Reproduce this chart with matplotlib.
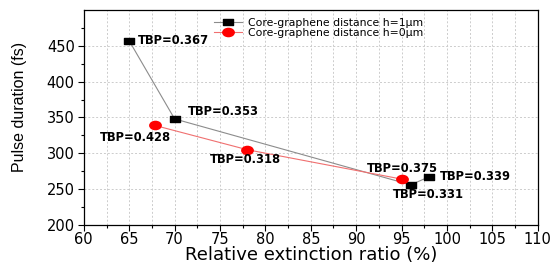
import matplotlib
matplotlib.use("Agg")
import matplotlib.pyplot as plt
from matplotlib.path import Path
from matplotlib.transforms import Affine2D
from matplotlib.ticker import MultipleLocator, FixedLocator

# data
x_h1 = [65, 70, 96, 98]
y_h1 = [457, 348, 256, 267]
x_h0 = [67.8, 78, 95]
y_h0 = [339, 305, 264]

tbp_text = ["TBP=0.367", "TBP=0.353", "TBP=0.331", "TBP=0.339",
            "TBP=0.428", "TBP=0.318", "TBP=0.375"]
tbp_xy = [(65.9, 457), (71.5, 358), (94.0, 243), (99.2, 267),
          (61.8, 322), (73.9, 292), (91.2, 279)]

plt.rcParams["font.family"] = ["DejaVu Sans"]

# the source picture is a bit stretched sideways, so the markers are flat
rect = Path([(-1, -0.6), (1, -0.6), (1, 0.6), (-1, 0.6), (-1, -0.6)],
            [Path.MOVETO, Path.LINETO, Path.LINETO, Path.LINETO, Path.CLOSEPOLY])
ellipse = Path.unit_circle().transformed(Affine2D().scale(1, 0.72))

fig = plt.figure(figsize=(5.55, 2.64), dpi=100)
ax = fig.add_axes([0.151, 0.148, 0.818, 0.814])

ax.plot(x_h1, y_h1, "-", color="#8c8c8c", lw=0.8, marker=rect, ms=7.4,
        mfc="black", mec="black", label="Core-graphene distance h=1\u03bcm", zorder=3)
ax.plot(x_h0, y_h0, "-", color="#f07070", lw=0.8, marker=ellipse, ms=8.2,
        mfc="red", mec="red", label="Core-graphene distance h=0\u03bcm", zorder=3)

for t, (tx, ty) in zip(tbp_text, tbp_xy):
    ax.text(tx, ty, t, fontsize=8.3, fontweight="bold", va="center", ha="left")

ax.set_xlim(60, 110)
ax.set_ylim(200, 500)
ax.xaxis.set_major_locator(MultipleLocator(5))
ax.xaxis.set_minor_locator(MultipleLocator(2.5))
ax.yaxis.set_major_locator(FixedLocator([200, 250, 300, 350, 400, 450]))
ax.yaxis.set_minor_locator(FixedLocator([225, 275, 325, 375, 425, 475]))

ax.grid(True, which="major", axis="both", ls=(0, (2, 2)), color="#cccccc", lw=0.7)
ax.grid(True, which="minor", axis="x", ls=(0, (2, 2)), color="#cccccc", lw=0.7)
ax.set_axisbelow(True)

ax.tick_params(which="major", direction="out", length=4, width=0.8,
               labelsize=10.5, pad=1.2)
ax.tick_params(axis="y", which="major", pad=2.5)
ax.tick_params(which="minor", direction="out", length=2.2, width=0.8)
for s in ax.spines.values():
    s.set_linewidth(0.9)

ax.set_xlabel("Relative extinction ratio (%)", fontsize=13, va="baseline")
ax.xaxis.set_label_coords(0.5, -0.163)
ax.set_ylabel("Pulse duration (fs)", fontsize=11.5, family="Liberation Sans")
ax.yaxis.set_label_coords(-0.125, 0.55)

ax.legend(loc="upper left", bbox_to_anchor=(0.27, 1.0), frameon=False,
          fontsize=7.8, handlelength=2.6, handletextpad=0.5, labelspacing=0.0,
          borderpad=0.2)

fig.savefig("out.png", dpi=100)
